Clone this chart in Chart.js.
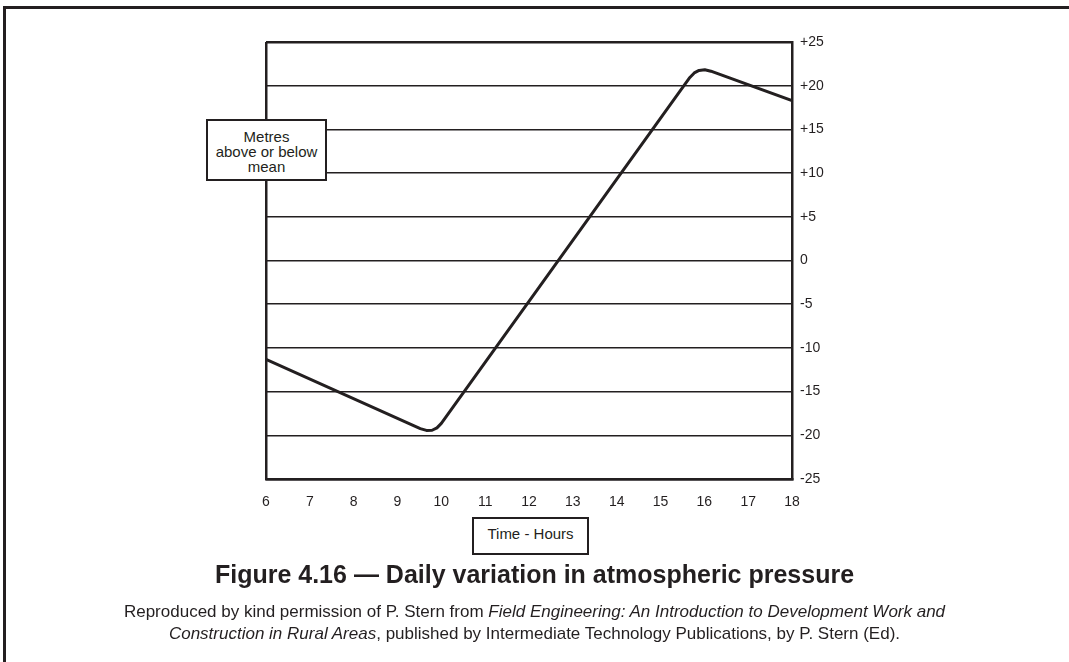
<!DOCTYPE html>
<html>
<head>
<meta charset="utf-8">
<title>Daily variation in atmospheric pressure</title>
<script src="https://cdn.jsdelivr.net/npm/chart.js@4.4.0/dist/chart.umd.min.js"></script>
<style>
    body {
        margin: 0;
        background: #fff;
        font-family: "Liberation Sans", Arial, Helvetica, sans-serif;
        color: #231f20;
    }
    #wrap {
        position: relative;
        width: 1069px;
        height: 662px;
        overflow: hidden;
    }
    #frame {
        position: absolute;
        left: 3px;
        top: 6px;
        right: -10px;
        bottom: -10px;
        border-left: 3px solid #231f20;
        border-top: 3px solid #231f20;
    }
    #chart {
        position: absolute;
        left: 0;
        top: 0;
    }
    .box {
        position: absolute;
        background: #fff;
        border: 2px solid #231f20;
        box-sizing: border-box;
        text-align: center;
        font-size: 15px;
    }
    #yBox {
        left: 206px;
        top: 119px;
        width: 121px;
        height: 62px;
        line-height: 15px;
        padding-top: 8px;
    }
    #xBox {
        left: 472px;
        top: 517px;
        width: 117px;
        height: 38px;
        line-height: 30px;
    }
    #title {
        position: absolute;
        left: 0;
        width: 1069px;
        top: 562px;
        text-align: center;
        font-weight: bold;
        font-size: 25px;
        line-height: 25px;
    }
    #caption {
        position: absolute;
        left: 0;
        width: 1069px;
        top: 601px;
        text-align: center;
        font-size: 17px;
        line-height: 22px;
    }
</style>
</head>
<body>
<div id="wrap">
    <div id="frame"></div>
    <canvas id="chart" width="1069" height="662"></canvas>
    <div class="box" id="yBox">Metres<br>above or below<br>mean</div>
    <div class="box" id="xBox">Time - Hours</div>
    <div id="title">Figure 4.16 — Daily variation in atmospheric pressure</div>
    <div id="caption">Reproduced by kind permission of P. Stern from <i>Field Engineering: An Introduction to Development Work and<br>Construction in Rural Areas</i>, published by Intermediate Technology Publications, by P. Stern (Ed).</div>
</div>

<script>
// Values (hours of day, metres above/below mean)
const hours = [6, 9.52, 9.66, 9.79, 9.90, 10.0, 15.67, 15.77, 15.88, 16.01, 16.15, 18];
const metres = [-11.3, -19.23, -19.44, -19.42, -19.15, -18.64, 20.94, 21.46, 21.75, 21.82, 21.66, 18.3];

const hourTicks = [6, 7, 8, 9, 10, 11, 12, 13, 14, 15, 16, 17, 18];
const metreTicks = [25, 20, 15, 10, 5, 0, -5, -10, -15, -20, -25];

const ink = "#231f20";

function metreLabel(v) {
    return v > 0 ? "+" + v : String(v);
}

const points = hours.map((h, i) => ({ x: h, y: metres[i] }));

new Chart(document.getElementById("chart"), {
    type: "line",
    data: {
        datasets: [{
            data: points,
            borderColor: ink,
            borderWidth: 3,
            borderJoinStyle: "round",
            pointRadius: 0,
            tension: 0,
            fill: false
        }]
    },
    options: {
        responsive: false,
        animation: false,
        devicePixelRatio: 1,
        layout: {
            padding: { left: 266, right: 237, top: 42, bottom: 143 }
        },
        plugins: {
            legend: { display: false },
            tooltip: { enabled: false }
        },
        scales: {
            x: {
                type: "linear",
                min: hourTicks[0],
                max: hourTicks[hourTicks.length - 1],
                afterBuildTicks: (scale) => {
                    scale.ticks = hourTicks.map(v => ({ value: v }));
                },
                afterFit: (scale) => { scale.height = 40; },
                grid: {
                    drawTicks: false,
                    lineWidth: 2.5,
                    color: (ctx) => ctx.tick && ctx.tick.value === hourTicks[0] ? ink : "rgba(0,0,0,0)"
                },
                border: { display: true, color: ink, width: 2.5 },
                ticks: {
                    padding: 15,
                    color: ink,
                    font: { family: "'Liberation Sans', Arial, sans-serif", size: 14 },
                    callback: (v) => String(v)
                }
            },
            y: {
                position: "right",
                min: -25,
                max: 25,
                afterBuildTicks: (scale) => {
                    scale.ticks = metreTicks.map(v => ({ value: v }));
                },
                afterFit: (scale) => { scale.width = 40; },
                grid: {
                    drawTicks: false,
                    color: ink,
                    lineWidth: (ctx) => ctx.tick && Math.abs(ctx.tick.value) === 25 ? 2.5 : 1.5
                },
                border: { display: true, color: ink, width: 2.5 },
                ticks: {
                    padding: 8,
                    color: ink,
                    font: { family: "'Liberation Sans', Arial, sans-serif", size: 14 },
                    callback: (v) => metreLabel(v)
                }
            }
        }
    }
});
</script>
</body>
</html>
